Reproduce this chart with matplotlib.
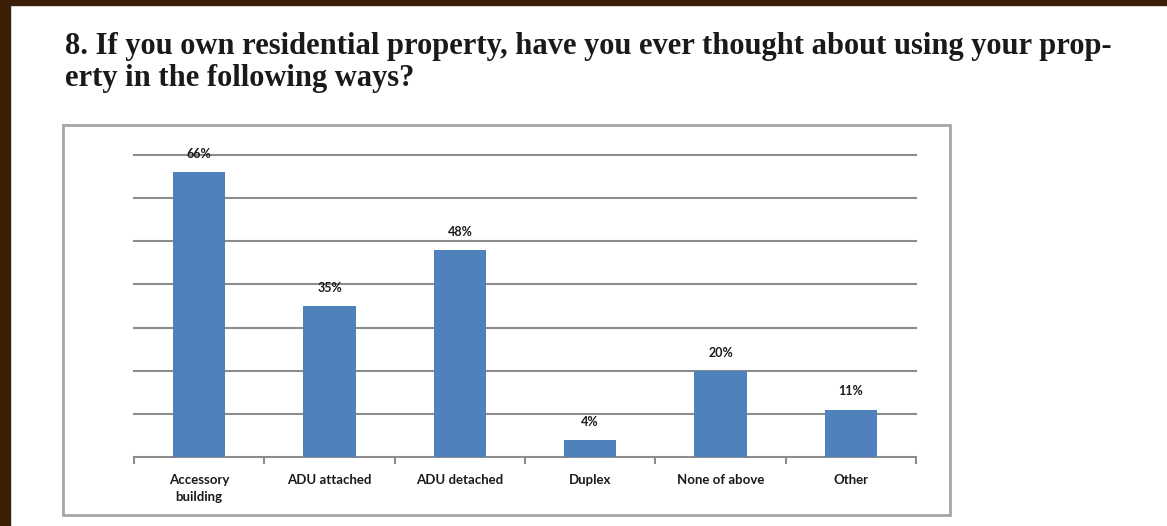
import numpy as np
import matplotlib.pyplot as plt
from matplotlib.patches import Rectangle

# survey answers
categories = ["Accessory\nbuilding", "ADU attached", "ADU detached", "Duplex", "None of above", "Other"]
percent = [66, 35, 48, 4, 20, 11]
title_lines = ["8. If you own residential property, have you ever thought about using your prop-",
               "erty in the following ways?"]

W, H = 1167, 526
fig = plt.figure(figsize=(W / 100, H / 100), dpi=100)
fig.patch.set_facecolor("white")

# dark page edge (top and left)
fig.patches.append(Rectangle((0, 1 - 5 / H), 1, 5 / H, transform=fig.transFigure,
                             color="#3a1f06", zorder=0))
fig.patches.append(Rectangle((0, 0), 10 / W, 1, transform=fig.transFigure,
                             color="#3a1f06", zorder=0))

# chart frame
fig.patches.append(Rectangle((63 / W, 1 - 515 / H), (950 - 63) / W, (515 - 125) / H,
                             transform=fig.transFigure, fill=False,
                             edgecolor="#a6a6a6", linewidth=2, zorder=1))

# title
for yb, line in zip([54, 86], title_lines):
    fig.text(65 / W, 1 - yb / H, line, fontsize=22, fontweight="bold",
             family="Liberation Serif", color="#1a1a1a", va="baseline", ha="left")

ax = fig.add_axes([134 / W, 1 - 457 / H, 782 / W, (457 - 155) / H])
x = np.arange(len(categories))
bars = ax.bar(x, percent, width=0.4, color="#4f81bd", zorder=3)
ax.set_xlim(-0.5, len(categories) - 0.5)
ax.set_ylim(0, 70)
ax.set_yticks(np.arange(10, 71, 10))
ax.yaxis.grid(True, color="#8c8c8c", linewidth=1.5, zorder=0)
for gl in ax.get_ygridlines():
    gl.set_clip_on(False)
ax.tick_params(axis="y", left=False, labelleft=False)

for s in ["top", "right", "left"]:
    ax.spines[s].set_visible(False)
ax.spines["bottom"].set_color("#8c8c8c")
ax.spines["bottom"].set_linewidth(1.5)

ax.set_xticks(x)
ax.set_xticklabels(categories, fontsize=9.5, family="Lato", fontweight="bold", color="#1a1a1a")
ax.tick_params(axis="x", which="major", length=0, pad=12)
ax.set_xticks(np.arange(-0.5, len(categories), 1), minor=True)
ax.tick_params(axis="x", which="minor", length=5, width=1.5, color="#8c8c8c", direction="out")
for lbl in ax.get_xticklabels():
    lbl.set_va("top")
    lbl.set_linespacing(1.5)

for b, v in zip(bars, percent):
    ax.annotate(f"{v}%", (b.get_x() + b.get_width() / 2, v), xytext=(0, 13),
                textcoords="offset points", ha="center", va="center",
                fontsize=9, family="Lato", fontweight="bold", color="#1a1a1a")

fig.savefig("out.png", dpi=100)
